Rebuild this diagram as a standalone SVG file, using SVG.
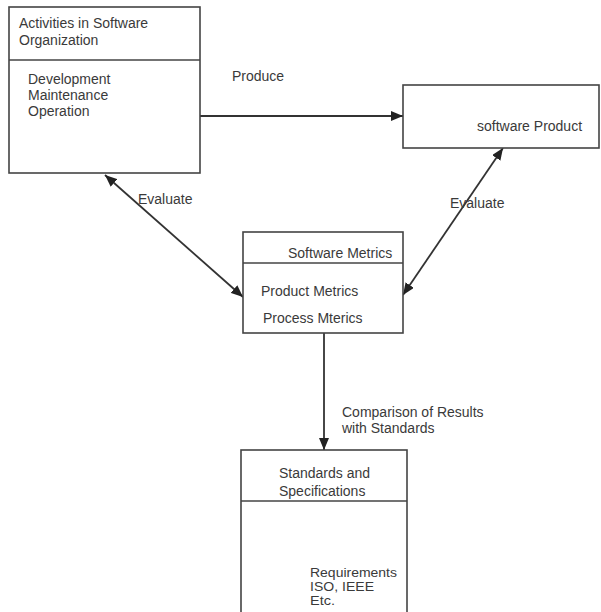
<svg xmlns="http://www.w3.org/2000/svg" width="601" height="612" viewBox="0 0 601 612">
  <defs>
    <marker id="arr" viewBox="0 0 12 10" refX="12" refY="5" markerWidth="12" markerHeight="10" markerUnits="userSpaceOnUse" orient="auto-start-reverse">
      <path d="M0,0 L12,5 L0,10 Z" fill="#222"/>
    </marker>
    <style>
      .box { fill: #fff; stroke: #444; stroke-width: 1.6; }
      .div { stroke: #444; stroke-width: 1.4; }
      .t { font-family: "Liberation Sans", Arial, sans-serif; font-size: 14px; fill: #3a3a3a; }
      .s { font-size: 12.5px; }
      .c { stroke: #333; stroke-width: 1.8; fill: none; }
    </style>
  </defs>
  <rect width="601" height="612" fill="#fff"/>

  <g id="connectors">
    <line class="c" x1="200" y1="116" x2="403" y2="116" marker-end="url(#arr)"/>
    <line class="c" x1="105" y1="175" x2="243" y2="297" marker-start="url(#arr)" marker-end="url(#arr)"/>
    <line class="c" x1="503" y1="148" x2="403" y2="295" marker-start="url(#arr)" marker-end="url(#arr)"/>
    <line class="c" x1="324" y1="333" x2="324" y2="450" marker-end="url(#arr)"/>
    <text class="t" x="232" y="81">Produce</text>
    <text class="t" x="138" y="204">Evaluate</text>
    <text class="t" x="450" y="208">Evaluate</text>
    <text class="t" x="342" y="417">Comparison of Results</text>
    <text class="t" x="342" y="433">with Standards</text>
  </g>

  <g id="activities">
    <rect class="box" x="9" y="7" width="191" height="166"/>
    <line class="div" x1="9" y1="60" x2="200" y2="60"/>
    <text class="t" x="19" y="28">Activities in Software</text>
    <text class="t" x="19" y="45">Organization</text>
    <text class="t" x="28" y="84">Development</text>
    <text class="t" x="28" y="100">Maintenance</text>
    <text class="t" x="28" y="116">Operation</text>
  </g>

  <g id="software-product">
    <rect class="box" x="403" y="85" width="196" height="63"/>
    <text class="t" x="477" y="131">software Product</text>
  </g>

  <g id="software-metrics">
    <rect class="box" x="243" y="232" width="160" height="101"/>
    <line class="div" x1="243" y1="263" x2="403" y2="263"/>
    <text class="t" x="288" y="258">Software Metrics</text>
    <text class="t" x="261" y="296">Product Metrics</text>
    <text class="t" x="263" y="323">Process Mterics</text>
  </g>

  <g id="standards">
    <rect class="box" x="241" y="450" width="166" height="200"/>
    <line class="div" x1="241" y1="501" x2="407" y2="501"/>
    <text class="t" x="279" y="478">Standards and</text>
    <text class="t" x="279" y="496">Specifications</text>
    <text class="t s" x="310" y="577" textLength="87" lengthAdjust="spacingAndGlyphs">Requirements</text>
    <text class="t s" x="310" y="591" textLength="64" lengthAdjust="spacingAndGlyphs">ISO, IEEE</text>
    <text class="t s" x="310" y="605" textLength="25" lengthAdjust="spacingAndGlyphs">Etc.</text>
  </g>
</svg>
